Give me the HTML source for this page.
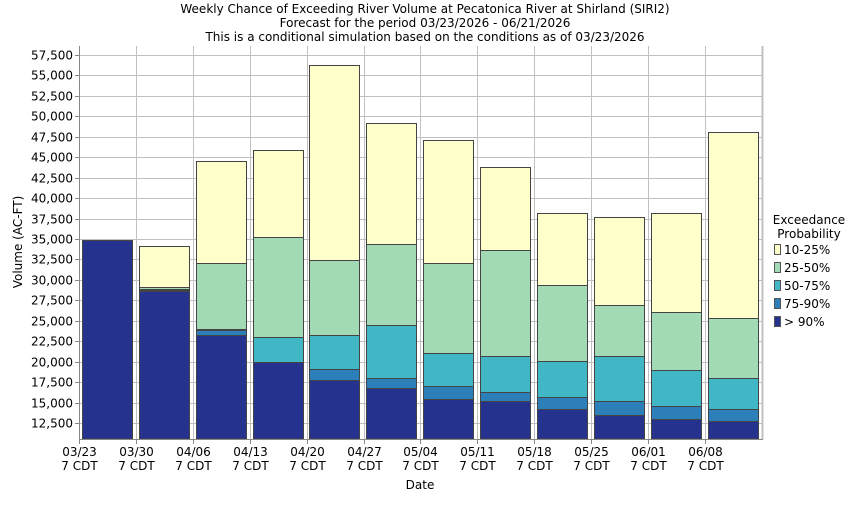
<!DOCTYPE html>
<html><head><meta charset="utf-8"><style>
body{margin:0;background:#fff;width:850px;height:500px;overflow:hidden}
text{font-family:"DejaVu Sans","Liberation Sans",sans-serif;font-size:12px;fill:#000}
</style></head><body>
<svg width="850" height="500" xmlns="http://www.w3.org/2000/svg">
<rect width="850" height="500" fill="#fff"/>
<text x="425" y="13" text-anchor="middle">Weekly Chance of Exceeding River Volume at Pecatonica River at Shirland (SIRI2)</text>
<text x="425" y="27" text-anchor="middle">Forecast for the period 03/23/2026 - 06/21/2026</text>
<text x="425" y="41" text-anchor="middle">This is a conditional simulation based on the conditions as of 03/23/2026</text>
<g id="grid" stroke="#c0c0c0" stroke-width="1"></g>
<g id="bars" stroke="#444" stroke-width="1"></g>
<line x1="79.5" y1="46" x2="79.5" y2="439" stroke="#888"/>
<line x1="79" y1="439.5" x2="763" y2="439.5" stroke="#888"/>
<line x1="762.5" y1="46" x2="762.5" y2="439" stroke="#c0c0c0" stroke-width="2"/>
<g id="yl"></g><g id="xl"></g>
<text x="22" y="242" text-anchor="middle" transform="rotate(-90 22 242)">Volume (AC-FT)</text>
<text x="420" y="489" text-anchor="middle">Date</text>
<text x="809" y="224" text-anchor="middle">Exceedance</text>
<text x="809" y="238" text-anchor="middle">Probability</text>
<g stroke="#555" stroke-width="1">
<rect x="774.5" y="244.5" width="6" height="10" fill="#ffffcc"/>
<rect x="774.5" y="262.5" width="6" height="10" fill="#a1dab4"/>
<rect x="774.5" y="280.5" width="6" height="10" fill="#41b6c4"/>
<rect x="774.5" y="298.5" width="6" height="10" fill="#2c7fb8"/>
<rect x="774.5" y="316.5" width="6" height="10" fill="#25338f"/>
</g>
<text x="784" y="254">10-25%</text>
<text x="784" y="272">25-50%</text>
<text x="784" y="290">50-75%</text>
<text x="784" y="308">75-90%</text>
<text x="784" y="326">&gt; 90%</text>
</svg>
<script>
const ns="http://www.w3.org/2000/svg";
const svg=document.querySelector('svg');
function el(t,a,p){const e=document.createElementNS(ns,t);for(const k in a)e.setAttribute(k,a[k]);(p||svg).appendChild(e);return e;}
const grid=document.getElementById('grid'),bars=document.getElementById('bars'),yl=document.getElementById('yl'),xl=document.getElementById('xl');
for(let i=0;i<19;i++){const y=Math.round(423.3-i*20.48)+0.5;
 el('line',{x1:80,y1:y,x2:762,y2:y},grid);
 el('line',{x1:75,y1:y,x2:79,y2:y,stroke:'#888'},yl);
 const t=el('text',{x:73,y:y+4,'text-anchor':'end'},yl);t.textContent=(12500+i*2500).toLocaleString('en-US');}
const dates=['03/23','03/30','04/06','04/13','04/20','04/27','05/04','05/11','05/18','05/25','06/01','06/08'];
for(let i=0;i<12;i++){const x=Math.round(79+56.9*i)+0.5;
 if(i>0)el('line',{x1:x,y1:46,x2:x,y2:439},grid);
 el('line',{x1:x,y1:439,x2:x,y2:444,stroke:'#888'},yl);
 let t=el('text',{x:x,y:456,'text-anchor':'middle'},xl);t.textContent=dates[i];
 t=el('text',{x:x,y:470,'text-anchor':'middle'},xl);t.textContent='7 CDT';}
const d=[[240,240,240,240,240],[291,290,289,287,246],[335,330,329,263,161],[362,362,337,237,150],[380,369,335,260,65],[388,378,325,244,123],[399,386,353,263,140],[401,392,356,250,167],[409,397,361,285,213],[415,401,356,305,217],[419,406,370,312,213],[421,409,378,318,132]];
const cols=['#25338f','#2c7fb8','#41b6c4','#a1dab4','#ffffcc'];
d.forEach((b,i)=>{const x=Math.round(81.8+56.9*i)+0.5;let bottom=439;
 for(let k=0;k<5;k++){const top=b[k]+0.5;if(bottom-top>0.1)el('rect',{x:x,y:top,width:50,height:bottom-top,fill:cols[k]},bars);bottom=top;}});
</script>
</body></html>
